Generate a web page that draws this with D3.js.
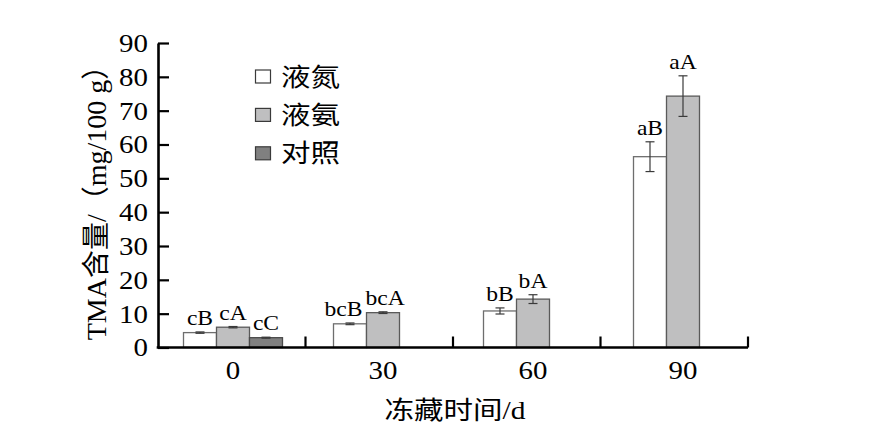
<!DOCTYPE html>
<html>
<head>
<meta charset="utf-8">
<script src="https://cdn.jsdelivr.net/npm/d3@7"></script>
<style>
  html, body { margin: 0; padding: 0; background: #fff; }
  svg { display: block; }
  text { font-family: 'Liberation Serif', 'Noto Sans CJK SC', serif; fill: #000; }
</style>
</head>
<body>
<svg id="chart" width="885" height="435"></svg>
<script>
// ---------- data ----------
const categories = ["0", "30", "60", "90"];
const seriesNames = ["液氮", "液氨", "对照"];
const liquidNitrogen = [4.4, 7.0, 10.8, 56.4];
const liquidAmmonia = [6.0, 10.3, 14.3, 74.3];
const control = [2.9, null, null, null];
const errNitrogen = [0.2, 0.25, 0.9, 4.4];
const errAmmonia = [0.2, 0.25, 1.3, 6.0];
const errControl = [0.15, null, null, null];
const lettersNitrogen = ["cB", "bcB", "bB", "aB"];
const lettersAmmonia = ["cA", "bcA", "bA", "aA"];
const lettersControl = ["cC", null, null, null];
const yTicks = [0, 10, 20, 30, 40, 50, 60, 70, 80, 90];
const xTitle = "冻藏时间/d";
const yTitle = "TMA含量/（mg/100 g）";

const fills = ["#ffffff", "#bfbfc0", "#808080"];
const strokes = ["#6e6e6e", "#5a5a5a", "#4a4a4a"];
const SX = 1.18; // horizontal stretch of the reference's text

const values = [liquidNitrogen, liquidAmmonia, control];
const errs = [errNitrogen, errAmmonia, errControl];
const letters = [lettersNitrogen, lettersAmmonia, lettersControl];

const rows = [];
categories.forEach((c, i) => {
  seriesNames.forEach((s, j) => {
    if (values[j][i] != null) rows.push({cat: c, ser: s, j, v: values[j][i], e: errs[j][i], lab: letters[j][i]});
  });
});

const svg = d3.select("#chart");

// ---------- scales ----------
const y = d3.scaleLinear().domain([0, 90]).range([347.5, 43]);
const xGroup = d3.scaleBand().domain(categories).range([158, 758]).paddingInner(0);
const xSep = d3.scaleBand().domain(categories).range([158, 748]);
const xSub = d3.scaleBand().domain(seriesNames).range([0, 99]);
const groupStart = c => xGroup(c) + xGroup.bandwidth() / 2 - 49.5;
const barCenter = d => groupStart(d.cat) + xSub(d.ser) + xSub.bandwidth() / 2;

// ---------- bars ----------
svg.append("g").selectAll("rect").data(rows).join("rect")
  .attr("x", d => groupStart(d.cat) + xSub(d.ser))
  .attr("y", d => y(d.v))
  .attr("width", xSub.bandwidth())
  .attr("height", d => y(0) - y(d.v))
  .attr("fill", d => fills[d.j])
  .attr("stroke", d => strokes[d.j])
  .attr("stroke-width", 1.3);

// ---------- error bars ----------
const eg = svg.append("g").attr("stroke", "#3a3a3a").attr("stroke-width", 1.2);
rows.forEach(d => {
  const cx = barCenter(d);
  const y1 = y(d.v + d.e), y2 = y(d.v - d.e);
  eg.append("line").attr("x1", cx).attr("x2", cx).attr("y1", y1).attr("y2", y2);
  [y1, y2].forEach(yy => eg.append("line").attr("x1", cx - 4.5).attr("x2", cx + 4.5).attr("y1", yy).attr("y2", yy));
});

// ---------- letter labels (with simple overlap avoidance) ----------
const labels = svg.append("g").selectAll("text").data(rows).join("text")
  .attr("text-anchor", "middle")
  .attr("font-size", 20)
  .text(d => d.lab);
labels.each(function(d) {
  d.lx = barCenter(d);
  d.ly = y(d.v + d.e) - 7;
  d.w = this.getComputedTextLength() * SX;
});
categories.forEach(c => {
  const grp = rows.filter(d => d.cat === c);
  for (let k = 1; k < grp.length; k++) {
    const a = grp[k - 1], b = grp[k];
    const overlap = (a.lx + a.w / 2 + 3) - (b.lx - b.w / 2);
    if (overlap > 0) { a.lx -= overlap * 0.75; b.lx += overlap * 0.25; }
  }
});
labels.attr("transform", d => `translate(${d.lx},${d.ly}) scale(${SX},1)`);

// ---------- y axis ----------
const yAxis = svg.append("g").attr("transform", "translate(158,0)")
  .call(d3.axisLeft(y).tickValues(yTicks).tickSizeInner(-11).tickSizeOuter(0).tickPadding(8.5));
yAxis.select(".domain").attr("stroke", "#000").attr("stroke-width", 2.6);
yAxis.selectAll(".tick line").attr("stroke", "#000").attr("stroke-width", 2.2);
yAxis.selectAll(".tick text")
  .attr("font-size", 24.5)
  .attr("font-family", "'Liberation Serif', serif")
  .attr("fill", "#000")
  .attr("dy", "0.34em")
  .attr("transform", `scale(${SX},1)`);

// ---------- x axis ----------
const xAxisG = svg.append("g");
xAxisG.append("line").attr("x1", xSep.range()[0] - 1.3).attr("x2", xSep.range()[1])
  .attr("y1", y(0)).attr("y2", y(0)).attr("stroke", "#000").attr("stroke-width", 2.4);
const sepPositions = categories.slice(1).map(c => xSep(c)).concat([xSep.range()[1]]);
xAxisG.selectAll("line.sep").data(sepPositions).join("line").attr("class", "sep")
  .attr("x1", d => d).attr("x2", d => d)
  .attr("y1", y(0)).attr("y2", y(0) - 11)
  .attr("stroke", "#000").attr("stroke-width", 2.2);
xAxisG.selectAll("text").data(categories).join("text")
  .attr("transform", d => `translate(${xGroup(d) + xGroup.bandwidth() / 2},378.5) scale(${SX},1)`)
  .attr("text-anchor", "middle")
  .attr("font-size", 24.5)
  .text(d => d);

// ---------- axis titles ----------
svg.append("text")
  .attr("transform", `translate(455,419) scale(${SX},1)`)
  .attr("text-anchor", "middle")
  .attr("font-size", 25)
  .text(xTitle);

svg.append("text")
  .attr("transform", "translate(106,196) rotate(-90)")
  .attr("text-anchor", "middle")
  .attr("font-size", 28)
  .text(yTitle);

// ---------- legend ----------
const legend = svg.append("g");
seriesNames.forEach((s, j) => {
  const cy = 76.5 + j * 38.4;
  legend.append("rect").attr("x", 255.5).attr("y", cy - 6.5).attr("width", 15).attr("height", 13)
    .attr("fill", fills[j]).attr("stroke", "#3a3a3a").attr("stroke-width", 1.2);
  legend.append("text")
    .attr("transform", `translate(281,${cy + 9}) scale(${SX},1)`)
    .attr("font-size", 25)
    .text(s);
});
</script>
</body>
</html>
